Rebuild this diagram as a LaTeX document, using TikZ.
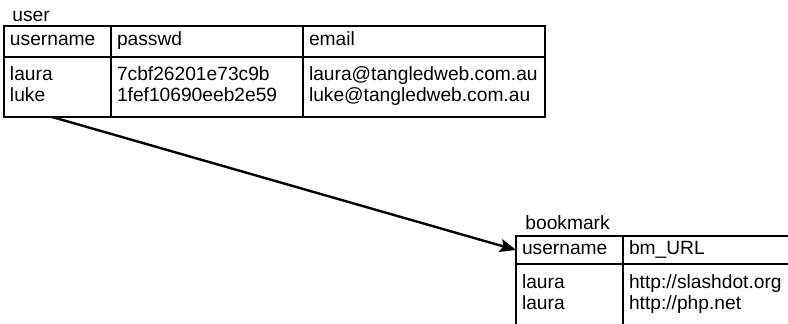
\documentclass[tikz,border=0pt]{standalone}
\usepackage{fontspec}
\setmainfont{Liberation Sans}
\usetikzlibrary{arrows.meta,calc,positioning}

\begin{document}
\begin{tikzpicture}[x=1pt,y=-1pt,>={Stealth[length=8pt,width=6.5pt,inset=1.5pt]},
  cell/.style={draw,line width=1.3pt,outer sep=0pt,inner xsep=3pt,inner ysep=0pt,align=left,
    font=\fontsize{9.6}{10.5}\selectfont,execute at begin node=\strut,execute at end node=\strut},
  head/.style={cell,minimum height=15.5pt},
  body/.style={cell,minimum height=30pt},
  tname/.style={anchor=base west,inner sep=0pt,font=\fontsize{9.6}{10.5}\selectfont}]
\useasboundingbox (0,0) rectangle (394,161.5);
\clip (0,0) rectangle (394,161.5);
% user table
\node[tname] (userlbl) at (6,10.5) {user};
\node[head,text width=47.5pt,anchor=north west] (uh1) at (2,13) {username};
\node[head,text width=90pt,right=0pt of uh1] (uh2) {passwd};
\node[head,text width=115pt,right=0pt of uh2] (uh3) {email};
\node[body,text width=47.5pt,below=0pt of uh1] (ub1) {laura\\luke};
\node[body,text width=90pt,right=0pt of ub1] (ub2) {7cbf26201e73c9b\\1fef10690eeb2e59};
\node[body,text width=115pt,right=0pt of ub2] (ub3) {laura@tangledweb.com.au\\luke@tangledweb.com.au};
% bookmark table
\node[tname] (bmlbl) at (262.5,114.5) {bookmark};
\node[cell,minimum height=14pt,text width=47.5pt,anchor=north west] (bh1) at (258,118) {username};
\node[cell,minimum height=14pt,text width=90pt,right=0pt of bh1] (bh2) {bm\_URL};
\node[cell,minimum height=31pt,text width=47.5pt,below=0pt of bh1] (bb1) {laura\\laura};
\node[cell,minimum height=31pt,text width=90pt,right=0pt of bb1] (bb2) {http://slashdot.org\\http://php.net};
% foreign key
\coordinate (fk) at ($(ub1.south west)!0.45!(ub1.south east)$);
\draw[->,line width=1.2pt] (fk) -- (bh1.west);
\end{tikzpicture}
\end{document}
